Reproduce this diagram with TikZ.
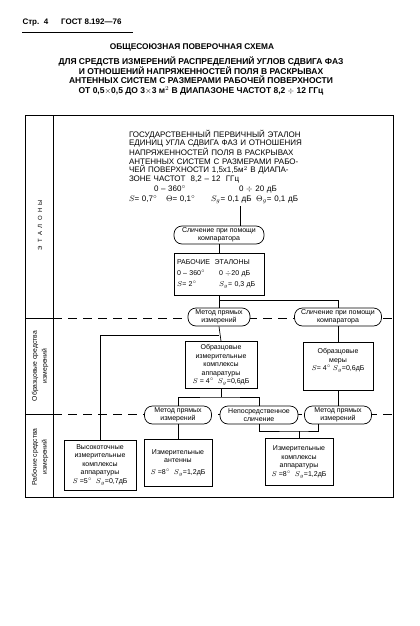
\documentclass[tikz,border=0pt]{standalone}
\usepackage{fontspec}
\setmainfont{Liberation Sans}
\usepackage{amsmath}
\usepackage{amssymb}
\usepackage{tikz}
\usetikzlibrary{calc}

\begin{document}
\begin{tikzpicture}[x=1pt,y=-1pt,
  box/.style={draw,line width=0.7pt,inner sep=1pt,align=center,font=\fontsize{7}{8.5}\selectfont},
  pill/.style={draw,fill=white,rounded corners=8pt,line width=0.7pt,minimum height=18pt,inner sep=1pt,align=center,font=\fontsize{7}{7.8}\selectfont},
  sect/.style={rotate=90,align=center,font=\fontsize{6.8}{10}\selectfont},
  brk/.style={dash pattern=on 9pt off 6pt,line width=0.6pt}]
\useasboundingbox (0,0) rectangle (420,626);

\node [anchor=west,font=\bfseries\fontsize{8}{9}\selectfont] (hdr) at (19,23) {Стр.\ \ 4\hspace{13pt}ГОСТ 8.192---76};
\draw [line width=0.8pt] (22,32) -- (133,32);
\node [font=\bfseries\fontsize{8.3}{10}\selectfont] (ttl) at (192,47) {ОБЩЕСОЮЗНАЯ ПОВЕРОЧНАЯ СХЕМА};
\node [align=center,font=\bfseries\fontsize{8.5}{9.7}\selectfont] (sub) at (201,76) {ДЛЯ СРЕДСТВ ИЗМЕРЕНИЙ РАСПРЕДЕЛЕНИЙ УГЛОВ СДВИГА ФАЗ\\
  И ОТНОШЕНИЙ НАПРЯЖЕННОСТЕЙ ПОЛЯ В РАСКРЫВАХ\\
  АНТЕННЫХ СИСТЕМ С РАЗМЕРАМИ РАБОЧЕЙ ПОВЕРХНОСТИ\\
  ОТ 0,5$\times$0,5 ДО 3$\times$3 м$^2$ В ДИАПАЗОНЕ ЧАСТОТ 8,2 $\div$ 12 ГГц};

\draw [line width=0.9pt] (25,115) rectangle (393,497);
\draw [line width=0.9pt] (53,115) -- (53,497);
\draw [line width=0.8pt] (25,318) -- (53,318);
\draw [line width=0.8pt] (25,414) -- (53,414);
\draw [brk] (53,318) -- (393,318);
\draw [brk] (53,414) -- (393,414);

\node [sect,font=\fontsize{6}{7}\selectfont] (lbl1) at (40,225) {Э\ \ Т\ \ А\ \ Л\ \ О\ \ Н\ \ Ы};
\node [sect] (lbl2) at (40,366) {Образцовые средства\\измерений};
\node [sect] (lbl3) at (40,457) {Рабочие средства\\измерений};

\node [draw,line width=0.6pt,double,double distance=1.4pt,text width=222pt,inner xsep=5pt,inner ysep=2pt,align=left,font=\fontsize{8}{8.6}\selectfont] (gpe) at (240,167) {ГОСУДАРСТВЕННЫЙ ПЕРВИЧНЫЙ ЭТАЛОН\\
  ЕДИНИЦ УГЛА СДВИГА ФАЗ И ОТНОШЕНИЯ\\
  НАПРЯЖЕННОСТЕЙ ПОЛЯ В РАСКРЫВАХ\\
  АНТЕННЫХ СИСТЕМ С РАЗМЕРАМИ РАБО-\\
  ЧЕЙ ПОВЕРХНОСТИ 1,5x1,5м$^2$ В ДИАПА-\\
  ЗОНЕ ЧАСТОТ \ 8,2 -- 12 \ ГГц\\[1.5pt]
  \hspace*{25pt}\makebox[85pt][l]{0 -- 360$^{\circ}$}0 $\div$ 20 дБ\\[1.5pt]
  \makebox[37pt][l]{$S$= 0,7$^{\circ}$}\makebox[45pt][l]{$\Theta$= 0,1$^{\circ}$}\makebox[45pt][l]{$S_g$= 0,1 дБ}$\Theta_g$= 0,1 дБ};

\node [pill,minimum width=90pt] (cmp1) at (219,235) {Сличение при помощи\\компаратора};
\node [box,text width=84pt,inner xsep=3pt,minimum height=42pt,align=left,font=\fontsize{7}{11}\selectfont] (re) at (219,274) {РАБОЧИЕ \ ЭТАЛОНЫ\\
  \makebox[42pt][l]{0 -- 360$^{\circ}$}0 $\div$20 дБ\\
  \makebox[42pt][l]{$S$= 2$^{\circ}$}\mbox{$S_g$= 0,3 дБ}};

\node [pill,minimum width=62pt] (mpi1) at (219,317) {Метод прямых\\измерений};
\node [pill,minimum width=87pt] (cmp2) at (338,317) {Сличение при помощи\\компаратора};

\node [box,minimum width=72pt,minimum height=47pt] (obk) at (221,365) {Образцовые\\измерительные\\комплексы\\аппаратуры\\$S$ = 4$^{\circ}$ \ $S_g$=0,6дБ};
\node [box,minimum width=70pt,minimum height=48pt] (obm) at (338,366) {Образцовые\\меры\\$S$= 4$^{\circ}$ $S_g$=0,6дБ\\[4pt]};

\node [pill,minimum width=67pt] (mpi2) at (178,415) {Метод прямых\\измерений};
\node [pill,minimum width=78pt] (ns) at (259,415) {Непосредственное\\сличение};
\node [pill,minimum width=67pt] (mpi3) at (338,415) {Метод прямых\\измерений};

\node [box,minimum width=72pt,minimum height=50pt] (vik) at (100,465) {Высокоточные\\измерительные\\комплексы\\аппаратуры\\$S$ =5$^{\circ}$ \ $S_g$=0,7дБ};
\node [box,minimum width=68pt,minimum height=47pt] (ia) at (178,463) {Измерительные\\антенны\\[3pt]$S$ =8$^{\circ}$ \ $S_g$=1,2дБ};
\node [box,minimum width=68pt,minimum height=47pt] (ika) at (299,462) {Измерительные\\комплексы\\аппаратуры\\$S$ =8$^{\circ}$ \ $S_g$=1,2дБ};

\coordinate (jR) at (219,300);
\coordinate (jL) at (219,335);
\coordinate (jB) at (221,397);
\coordinate (jC) at (299,431);

\draw [line width=0.7pt] (gpe.south) -- (gpe.south |- cmp1.north);
\draw [line width=0.7pt] (cmp1.south) -- (re.north);
\draw [line width=0.7pt] (re.south) -- (mpi1.north);
\draw [line width=0.7pt] (jR) -| (cmp2.north);
\draw [line width=0.7pt] (mpi1.south) -- (obk.north);
\draw [line width=0.7pt] (jL) -| (vik.north);
\draw [line width=0.7pt] (cmp2.south) -- (obm.north);
\draw [line width=0.7pt] (obm.south) -- (mpi3.north);
\draw [line width=0.7pt] (obk.south) -- (jB);
\draw [line width=0.7pt] (mpi2.north) |- (jB) -| (ns.north);
\draw [line width=0.7pt] (mpi2.south) -- (ia.north);
\draw [line width=0.7pt] (ns.south) |- (jC) -| ($(mpi3.south)+(-20,0)$);
\draw [line width=0.7pt] (ika.north) -- (jC);

\end{tikzpicture}
\end{document}
